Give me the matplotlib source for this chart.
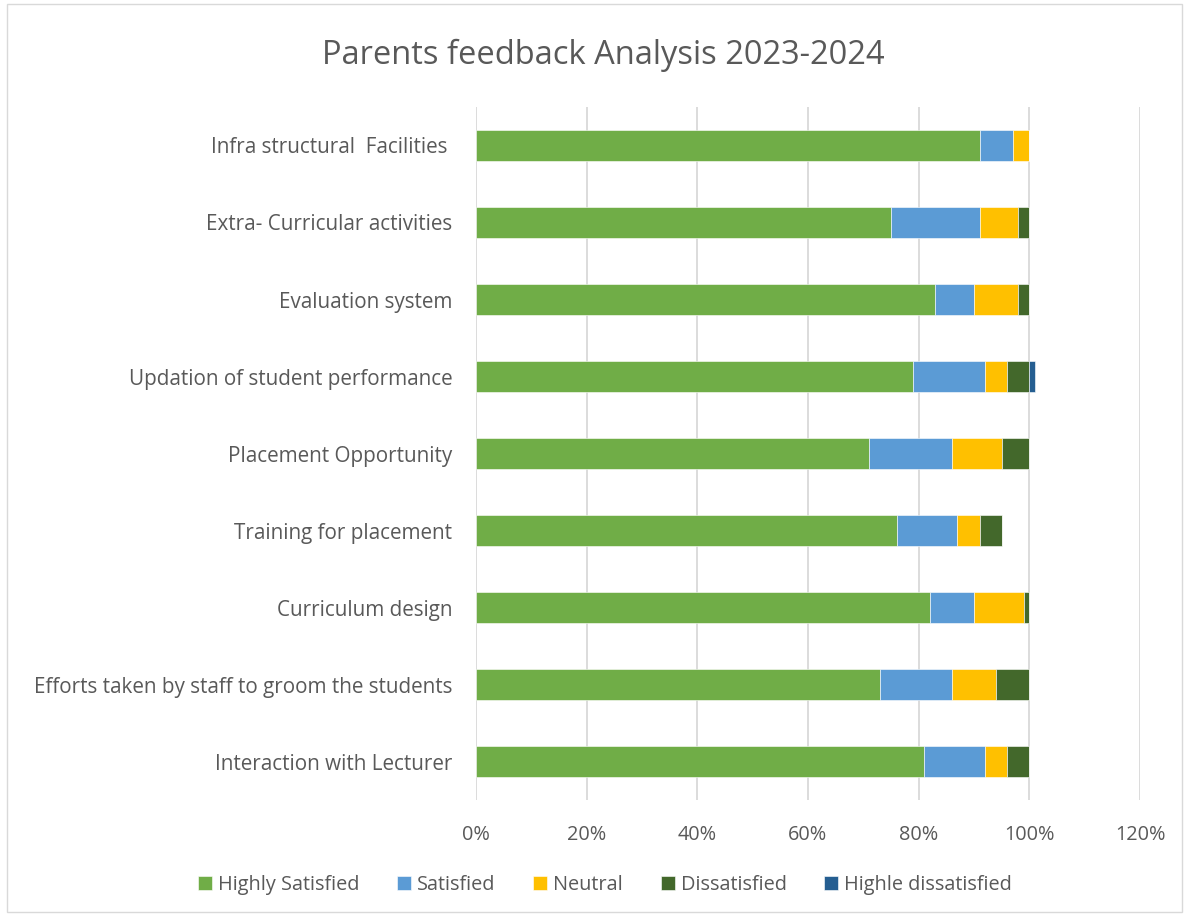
import matplotlib
matplotlib.use("Agg")
import matplotlib.pyplot as plt
import numpy as np
from matplotlib.patches import Rectangle

plt.rcParams["font.family"] = ["Open Sans", "DejaVu Sans"]

categories = [
    "Interaction with Lecturer",
    "Efforts taken by staff to groom the students",
    "Curriculum design",
    "Training for placement",
    "Placement Opportunity",
    "Updation of student performance",
    "Evaluation system",
    "Extra- Curricular activities",
    "Infra structural  Facilities ",
]
highly_satisfied = [81, 73, 82, 76, 71, 79, 83, 75, 91]
satisfied = [11, 13, 8, 11, 15, 13, 7, 16, 6]
neutral = [4, 8, 9, 4, 9, 4, 8, 7, 3]
dissatisfied = [4, 6, 1, 4, 5, 4, 2, 2, 0]
highly_dissatisfied = [0, 0, 0, 0, 0, 1, 0, 0, 0]

series = [
    ("Highly Satisfied", highly_satisfied, "#70AD47"),
    ("Satisfied", satisfied, "#5B9BD5"),
    ("Neutral", neutral, "#FFC000"),
    ("Dissatisfied", dissatisfied, "#43682B"),
    ("Highle dissatisfied", highly_dissatisfied, "#255E91"),
]

TEXT = "#595959"
GRID = "#D9D9D9"

fig = plt.figure(figsize=(11.89, 9.16), dpi=100)
ax = fig.add_axes([0.4003, 0.1266, 0.5585, 0.7566])

y = np.arange(len(categories))
left = np.zeros(len(categories))
for name, vals, color in series:
    v = np.array(vals) / 100.0
    ax.barh(y, v, left=left, height=0.4, color=color, label=name,
            edgecolor="white", linewidth=0.4, zorder=2)
    left += v

ticks = np.arange(0, 1.21, 0.2)
ax.set_xlim(0, 1.2)
ax.set_ylim(-0.5, len(categories) - 0.5)
ax.set_xticks(ticks)
ax.set_xticklabels([f"{int(round(t * 100))}%" for t in ticks])
ax.set_yticks(y)
ax.set_yticklabels(categories)
ax.xaxis.grid(True, color=GRID, linewidth=1.3, zorder=0)
ax.set_axisbelow(True)
for s in ax.spines.values():
    s.set_visible(False)
ax.tick_params(axis="x", length=0, labelsize=14.3, colors=TEXT, pad=18)
ax.tick_params(axis="y", length=0, labelsize=14.9, colors=TEXT, pad=17)

fig.text(0.507, 0.939, "Parents feedback Analysis 2023-2024",
         ha="center", va="center", fontsize=23.5, color=TEXT)

fig.legend(loc="center", bbox_to_anchor=(0.509, 0.034), ncol=5, frameon=False,
           fontsize=14.3, labelcolor=TEXT, handlelength=0.7, handleheight=0.7,
           handletextpad=0.3, columnspacing=1.9)

fig.patches.append(Rectangle((0.006, 0.004), 0.988, 0.992, transform=fig.transFigure,
                             fill=False, edgecolor="#D9D9D9", linewidth=1.0))

fig.savefig("out.png", dpi=100)
